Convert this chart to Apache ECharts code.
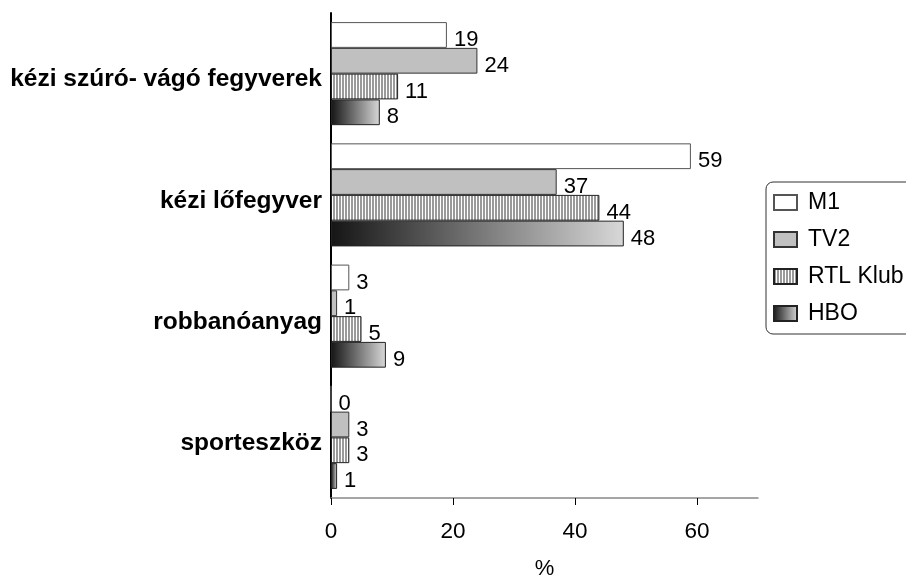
<!DOCTYPE html>
<html>
<head>
<meta charset="utf-8">
<script src="https://cdn.jsdelivr.net/npm/echarts@6/dist/echarts.min.js"></script>
<style>html,body{margin:0;padding:0;background:#fff;}#c{width:906px;height:576px;}</style>
</head>
<body>
<div id="c"></div>
<script>
const categories = ['kézi szúró- vágó fegyverek', 'kézi lőfegyver', 'robbanóanyag', 'sporteszköz'];
const seriesNames = ['M1', 'TV2', 'RTL Klub', 'HBO'];
const m1 = [19, 59, 3, 0];
const tv2 = [24, 37, 1, 3];
const rtl = [11, 44, 5, 3];
const hbo = [8, 48, 9, 1];
const xTicks = [0, 20, 40, 60];
const axisName = '%';

const FONT = '"Liberation Sans", Arial, sans-serif';

function stripeCanvas() {
  const c = document.createElement('canvas');
  c.width = 3; c.height = 4;
  const ctx = c.getContext('2d');
  ctx.fillStyle = '#ffffff';
  ctx.fillRect(0, 0, 3, 4);
  ctx.fillStyle = '#9a9a9a';
  ctx.fillRect(0, 0, 2, 4);
  return c;
}
const stripes = { image: stripeCanvas(), repeat: 'repeat' };
const grad = { type: 'linear', x: 0, y: 0, x2: 1, y2: 0, colorStops: [{ offset: 0, color: '#151515' }, { offset: 1, color: '#d8d8d8' }] };

const fills = [ '#ffffff', '#c0c0c0', stripes, grad ];
const borders = [ '#555555', '#333333', '#222222', '#222222' ];
const values = [m1, tv2, rtl, hbo];

const chart = echarts.init(document.getElementById('c'), null, { renderer: 'canvas' });
chart.setOption({
  backgroundColor: '#ffffff',
  animation: false,
  textStyle: { fontFamily: FONT },
  grid: { left: 331, right: 148, top: 13, bottom: 78, containLabel: false, outerBoundsMode: 'none' },
  legend: {
    orient: 'vertical',
    left: 766, top: 182,
    padding: [9, 10, 9, 7],
    itemWidth: 23, itemHeight: 15,
    itemGap: 14,
    icon: 'rect',
    borderColor: '#333', borderWidth: 1, borderRadius: 7,
    textStyle: { fontSize: 23, color: '#000', fontFamily: FONT, padding: [4, 0, 0, 6] },
    data: seriesNames,
    selectedMode: false
  },
  xAxis: {
    type: 'value', min: 0, max: 70, interval: 20,
    name: axisName, nameLocation: 'middle', nameGap: 60,
    nameTextStyle: { fontSize: 22, color: '#000' },
    axisLine: { show: true, lineStyle: { color: '#888', width: 1.5 } },
    axisTick: { show: true, length: 7, lineStyle: { color: '#000', width: 1 }, customValues: xTicks },
    axisLabel: { fontSize: 22.5, color: '#000', margin: 22, customValues: xTicks },
    splitLine: { show: false }
  },
  yAxis: {
    type: 'category', data: categories, inverse: true,
    axisLine: { show: true, lineStyle: { color: '#000', width: 2 } },
    axisTick: { show: false },
    axisLabel: { fontSize: 24.5, fontWeight: 'bold', color: '#000', margin: 9, verticalAlign: 'top', lineHeight: 12 }
  },
  series: seriesNames.map((n, i) => ({
    name: n, type: 'bar',
    data: values[i],
    barGap: '0%', barCategoryGap: '15%',
    itemStyle: { color: fills[i], borderColor: borders[i], borderWidth: 1 },
    label: { show: true, position: 'right', distance: 7, offset: [0, 5], fontSize: 22, color: '#000' }
  }))
});
</script>
</body>
</html>
